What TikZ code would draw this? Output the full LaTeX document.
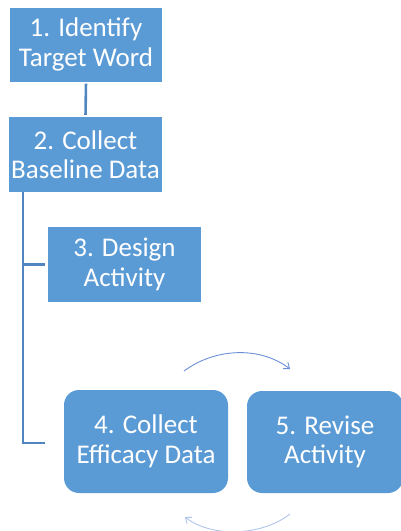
\documentclass[tikz,border=0pt]{standalone}
\usepackage{fontspec}
\setmainfont{Carlito}
\usetikzlibrary{arrows.meta}
\definecolor{boxblue}{HTML}{5B9BD5}
\definecolor{linkblue}{HTML}{4F86C0}
\definecolor{arcblue}{HTML}{6A8FD8}
\definecolor{arclight}{HTML}{AFC4EA}
\tikzset{
  stepbox/.style={fill=boxblue, draw=none, text=white, align=center,
    font=\fontsize{27}{29.5}\selectfont, inner sep=0pt},
  link/.style={draw=linkblue, line width=2.6pt},
  cyc/.style={line width=0.9pt, -{Straight Barb[length=5pt,width=8pt]}}
}
\begin{document}
\begin{tikzpicture}[x=1pt,y=-1pt]
\useasboundingbox (0,0) rectangle (400,531);
\node[stepbox, minimum width=152pt, minimum height=74pt] (b1) at (86,44.5) {1. Identify\\Target Word};
\node[stepbox, minimum width=153pt, minimum height=75pt] (b2) at (85.5,154.5) {2. Collect\\Baseline Data};
\node[stepbox, minimum width=153pt, minimum height=75pt] (b3) at (124.5,264.5) {3. Design\\Activity};
\node[stepbox, rounded corners=15pt, minimum width=164pt, minimum height=103pt] (b4) at (146,441.5) {4. Collect\\Efficacy Data};
\node[stepbox, rounded corners=15pt, minimum width=156pt, minimum height=102pt] (b5) at (325,442) {5. Revise\\Activity};
\draw[link, shorten <=2pt, shorten >=2pt] (b1.south) -- (b2.north);
\coordinate (t0) at (23,192);
\coordinate (t1) at (23,264.5);
\coordinate (t2) at (23,443);
\coordinate (e3) at (45,264.5);
\coordinate (e4) at (45,443);
\draw[link] (t0) -- (t2) -- (e4);
\draw[link] (t1) -- (e3);
\coordinate (a1) at (184,371);
\coordinate (a2) at (290,369);
\coordinate (a3) at (290,514);
\coordinate (a4) at (185,517);
\draw[cyc, arcblue] (a1) .. controls (215,348) and (260,346) .. (a2);
\draw[cyc, arclight] (a3) .. controls (262,536) and (212,538) .. (a4);
\end{tikzpicture}
\end{document}
